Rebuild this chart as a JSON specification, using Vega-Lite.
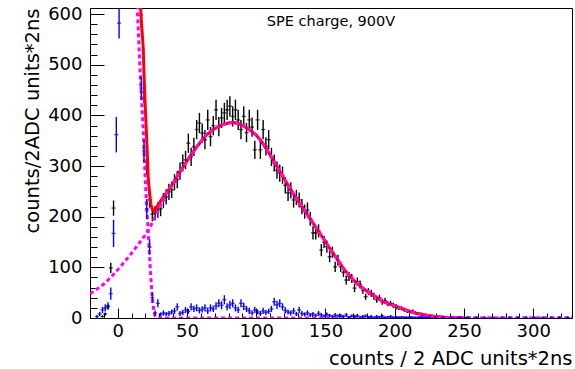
{
"$schema": "https://vega.github.io/schema/vega-lite/v6.json",
"width": 482, "height": 310,
"autosize": {"type": "none"},
"padding": {"left": 90, "top": 8, "right": 3, "bottom": 51},
"background": "white",
"config": {"view": {"stroke": "black", "strokeWidth": 1}, "font": "DejaVu Sans"},
"title": {"text": "SPE charge, 900V", "anchor": "middle", "frame": "group", "offset": -35, "baseline": "alphabetic", "font": "DejaVu Sans", "fontSize": 14.5, "fontWeight": "normal", "color": "black"},
"datasets": {
"black": [
{"x":-11,"y":3,"e":2},{"x":-9,"y":8,"e":3},{"x":-7,"y":22,"e":5},{"x":-5,"y":99,"e":10},{"x":-3,"y":217,"e":15},
{"x":17,"y":598,"e":24},{"x":19,"y":445,"e":21},{"x":21,"y":300,"e":17},{"x":23,"y":233,"e":15},{"x":25,"y":205,"e":14},
{"x":27,"y":207,"e":14},{"x":29,"y":213,"e":15},{"x":31,"y":216,"e":15},{"x":33,"y":232,"e":15},{"x":35,"y":239,"e":15},
{"x":37,"y":249,"e":16},{"x":39,"y":253,"e":16},{"x":41,"y":268,"e":16},{"x":43,"y":273,"e":17},{"x":45,"y":290,"e":17},
{"x":47,"y":306,"e":17},{"x":49,"y":312,"e":18},{"x":51,"y":345,"e":19},{"x":53,"y":318,"e":18},{"x":55,"y":338,"e":18},
{"x":57,"y":372,"e":19},{"x":59,"y":385,"e":20},{"x":61,"y":365,"e":19},{"x":63,"y":352,"e":19},{"x":65,"y":391,"e":20},
{"x":67,"y":358,"e":19},{"x":69,"y":380,"e":19},{"x":71,"y":411,"e":20},{"x":73,"y":378,"e":19},{"x":75,"y":395,"e":20},
{"x":77,"y":405,"e":20},{"x":79,"y":411,"e":20},{"x":81,"y":418,"e":20},{"x":83,"y":398,"e":20},{"x":85,"y":411,"e":20},
{"x":87,"y":391,"e":20},{"x":89,"y":372,"e":19},{"x":91,"y":398,"e":20},{"x":93,"y":366,"e":19},{"x":95,"y":391,"e":20},
{"x":97,"y":377,"e":19},{"x":99,"y":332,"e":18},{"x":101,"y":391,"e":20},{"x":103,"y":332,"e":18},{"x":105,"y":372,"e":19},
{"x":107,"y":339,"e":18},{"x":109,"y":352,"e":19},{"x":111,"y":318,"e":18},{"x":113,"y":306,"e":17},{"x":115,"y":292,"e":17},
{"x":117,"y":286,"e":17},{"x":119,"y":282,"e":17},{"x":121,"y":262,"e":16},{"x":123,"y":247,"e":16},{"x":125,"y":252,"e":16},
{"x":127,"y":233,"e":15},{"x":129,"y":238,"e":15},{"x":131,"y":233,"e":15},{"x":133,"y":220,"e":15},{"x":135,"y":210,"e":14},
{"x":137,"y":213,"e":15},{"x":139,"y":196,"e":14},{"x":141,"y":168,"e":13},{"x":143,"y":168,"e":13},{"x":145,"y":172,"e":13},
{"x":147,"y":134,"e":12},{"x":149,"y":150,"e":12},{"x":151,"y":141,"e":12},{"x":153,"y":121,"e":11},{"x":155,"y":130,"e":11},
{"x":157,"y":101,"e":10},{"x":159,"y":114,"e":11},{"x":161,"y":101,"e":10},{"x":163,"y":90,"e":9},{"x":165,"y":75,"e":9},
{"x":167,"y":82,"e":9},{"x":169,"y":78,"e":9},{"x":171,"y":59,"e":8},{"x":173,"y":72,"e":8},{"x":175,"y":66,"e":8},
{"x":177,"y":55,"e":7},{"x":179,"y":42,"e":6},{"x":181,"y":52,"e":7},{"x":183,"y":49,"e":7},{"x":185,"y":43,"e":7},
{"x":187,"y":36,"e":6},{"x":189,"y":40,"e":6},{"x":191,"y":32,"e":6},{"x":193,"y":34,"e":6},{"x":195,"y":28,"e":5},
{"x":197,"y":29,"e":5},{"x":199,"y":25,"e":5},{"x":201,"y":22,"e":5},{"x":203,"y":20,"e":4},{"x":205,"y":19,"e":4},
{"x":207,"y":16,"e":4},{"x":209,"y":14,"e":4},{"x":211,"y":12,"e":3},{"x":213,"y":13,"e":4},{"x":215,"y":10,"e":3},
{"x":217,"y":9,"e":3},{"x":219,"y":8,"e":3},{"x":221,"y":6,"e":2},{"x":223,"y":6,"e":2},{"x":225,"y":5,"e":2},
{"x":227,"y":3,"e":2},{"x":229,"y":4,"e":2},{"x":231,"y":3,"e":2},{"x":233,"y":2,"e":1},{"x":235,"y":2,"e":1},
{"x":237,"y":1,"e":1},{"x":239,"y":2,"e":1},{"x":241,"y":1,"e":1},{"x":245,"y":1,"e":1},{"x":251,"y":1,"e":1}
],
"blue": [
{"x":-15,"y":3,"e":3},{"x":-13,"y":8,"e":4},{"x":-11,"y":16,"e":6},{"x":-9,"y":20,"e":7},{"x":-7,"y":24,"e":7},
{"x":-5,"y":48,"e":12},{"x":-3,"y":167,"e":27},{"x":-1,"y":362,"e":35},{"x":1,"y":582,"e":30},
{"x":17,"y":454,"e":23},{"x":19,"y":330,"e":22},{"x":21,"y":215,"e":20},{"x":23,"y":140,"e":15},{"x":25,"y":40,"e":10},
{"x":27,"y":10,"e":5},{"x":29,"y":29,"e":8},{"x":31,"y":7,"e":4},{"x":33,"y":10,"e":5},{"x":35,"y":8,"e":4},
{"x":37,"y":9,"e":5},{"x":39,"y":12,"e":5},{"x":41,"y":14,"e":6},{"x":43,"y":22,"e":7},{"x":45,"y":9,"e":5},
{"x":47,"y":11,"e":5},{"x":49,"y":16,"e":6},{"x":51,"y":13,"e":5},{"x":53,"y":22,"e":7},{"x":55,"y":18,"e":6},
{"x":57,"y":20,"e":7},{"x":59,"y":15,"e":6},{"x":61,"y":17,"e":6},{"x":63,"y":20,"e":7},{"x":65,"y":14,"e":6},
{"x":67,"y":20,"e":7},{"x":69,"y":18,"e":6},{"x":71,"y":24,"e":7},{"x":73,"y":29,"e":8},{"x":75,"y":25,"e":8},
{"x":77,"y":36,"e":9},{"x":79,"y":22,"e":7},{"x":81,"y":26,"e":8},{"x":83,"y":29,"e":8},{"x":85,"y":20,"e":7},
{"x":87,"y":16,"e":6},{"x":89,"y":29,"e":8},{"x":91,"y":23,"e":7},{"x":93,"y":18,"e":6},{"x":95,"y":14,"e":6},
{"x":97,"y":10,"e":5},{"x":99,"y":16,"e":6},{"x":101,"y":12,"e":5},{"x":103,"y":9,"e":5},{"x":105,"y":14,"e":6},
{"x":107,"y":11,"e":5},{"x":109,"y":13,"e":5},{"x":111,"y":18,"e":6},{"x":113,"y":32,"e":8},{"x":115,"y":26,"e":8},
{"x":117,"y":29,"e":8},{"x":119,"y":22,"e":7},{"x":121,"y":15,"e":6},{"x":123,"y":12,"e":5},{"x":125,"y":10,"e":5},
{"x":127,"y":14,"e":6},{"x":129,"y":8,"e":4},{"x":131,"y":16,"e":6},{"x":133,"y":9,"e":5},{"x":135,"y":7,"e":4},
{"x":137,"y":10,"e":5},{"x":139,"y":6,"e":4},{"x":141,"y":8,"e":4},{"x":143,"y":5,"e":3},{"x":145,"y":9,"e":5},
{"x":147,"y":6,"e":4},{"x":149,"y":4,"e":3},{"x":151,"y":7,"e":4},{"x":153,"y":5,"e":3},{"x":155,"y":3,"e":3},
{"x":157,"y":6,"e":4},{"x":159,"y":4,"e":3},{"x":161,"y":5,"e":3},{"x":163,"y":3,"e":3},{"x":165,"y":6,"e":4},
{"x":167,"y":2,"e":2},{"x":169,"y":4,"e":3},{"x":171,"y":3,"e":3},{"x":173,"y":5,"e":3},{"x":175,"y":2,"e":2},
{"x":177,"y":3,"e":3},{"x":179,"y":4,"e":3},{"x":181,"y":2,"e":2},{"x":183,"y":3,"e":3},{"x":185,"y":1,"e":2},
{"x":187,"y":3,"e":3},{"x":189,"y":2,"e":2},{"x":191,"y":4,"e":3},{"x":193,"y":1,"e":2},{"x":195,"y":2,"e":2},
{"x":197,"y":3,"e":3},{"x":199,"y":1,"e":2},{"x":201,"y":2,"e":2},{"x":203,"y":1,"e":2},{"x":205,"y":2,"e":2},
{"x":207,"y":1,"e":2},{"x":209,"y":1,"e":2},{"x":211,"y":2,"e":2},{"x":213,"y":1,"e":2},{"x":215,"y":1,"e":2},
{"x":217,"y":1,"e":2},{"x":219,"y":2,"e":2},{"x":221,"y":1,"e":2},{"x":223,"y":1,"e":2},{"x":225,"y":1,"e":2},
{"x":229,"y":1,"e":2},{"x":235,"y":1,"e":2},{"x":241,"y":1,"e":2},{"x":247,"y":1,"e":2},{"x":253,"y":1,"e":2},
{"x":259,"y":1,"e":2},{"x":265,"y":1,"e":2},{"x":271,"y":1,"e":2},{"x":277,"y":1,"e":2},{"x":283,"y":1,"e":2},
{"x":289,"y":1,"e":2},{"x":295,"y":1,"e":2},{"x":301,"y":1,"e":2},{"x":307,"y":1,"e":2},{"x":313,"y":1,"e":2},
{"x":319,"y":1,"e":2},{"x":325,"y":1,"e":2}
],
"red": [
{"x":15,"y":700},{"x":16,"y":640},{"x":17,"y":590},{"x":18,"y":550},{"x":18.5,"y":530},{"x":19,"y":480},{"x":19.7,"y":431},
{"x":20.5,"y":380},{"x":21.3,"y":330},{"x":22.1,"y":273},{"x":23.3,"y":240},{"x":24,"y":224},{"x":25,"y":214},{"x":26,"y":212},
{"x":28,"y":218},{"x":30,"y":227},{"x":32,"y":235},{"x":34,"y":243},{"x":36,"y":250},{"x":40,"y":266},{"x":44,"y":284},
{"x":48,"y":301},{"x":52,"y":318},{"x":56,"y":334},{"x":60,"y":348},{"x":64,"y":361},{"x":68,"y":370},{"x":72,"y":377},
{"x":76,"y":382},{"x":80,"y":385},{"x":84,"y":386},{"x":88,"y":383},{"x":92,"y":377},{"x":96,"y":370},{"x":100,"y":361},
{"x":104,"y":348},{"x":108,"y":331},{"x":112,"y":313},{"x":116,"y":294},{"x":120,"y":276},{"x":124,"y":258},{"x":128,"y":240},
{"x":132,"y":224},{"x":136,"y":208},{"x":140,"y":192},{"x":144,"y":175},{"x":148,"y":159},{"x":152,"y":142},{"x":156,"y":126},
{"x":160,"y":110},{"x":164,"y":94},{"x":168,"y":82},{"x":172,"y":70},{"x":176,"y":61},{"x":180,"y":53},{"x":184,"y":46},
{"x":188,"y":39},{"x":192,"y":32},{"x":196,"y":28},{"x":200,"y":24},{"x":204,"y":20},{"x":208,"y":16},{"x":212,"y":12},
{"x":216,"y":9},{"x":220,"y":7},{"x":224,"y":5},{"x":228,"y":3.5},{"x":232,"y":2.5},{"x":236,"y":1.7},{"x":240,"y":1.2},
{"x":244,"y":0.8},{"x":250,"y":0.4}
],
"ped": [
{"x":13,"y":700},{"x":13.7,"y":640},{"x":16,"y":497},{"x":18.5,"y":365},{"x":19.7,"y":286},{"x":20.9,"y":220},{"x":22.1,"y":167},
{"x":23.3,"y":108},{"x":24.5,"y":55},{"x":25.7,"y":22},{"x":26.8,"y":5},{"x":28,"y":1},{"x":30,"y":0},{"x":328,"y":0}
],
"gaus": [
{"x":-20,"y":48},{"x":-15,"y":57},{"x":-10,"y":67},{"x":-5,"y":80},{"x":0,"y":95},{"x":5,"y":111},{"x":10,"y":128},
{"x":15,"y":146},{"x":20,"y":164},{"x":24,"y":183},{"x":28,"y":205},{"x":32,"y":230},{"x":36,"y":250},{"x":40,"y":266},
{"x":44,"y":284},{"x":48,"y":301},{"x":52,"y":318},{"x":56,"y":334},{"x":60,"y":348},{"x":64,"y":361},{"x":68,"y":370},
{"x":72,"y":377},{"x":76,"y":382},{"x":80,"y":385},{"x":84,"y":386},{"x":88,"y":383},{"x":92,"y":377},{"x":96,"y":370},
{"x":100,"y":361},{"x":104,"y":348},{"x":108,"y":331},{"x":112,"y":313},{"x":116,"y":294},{"x":120,"y":276},{"x":124,"y":258},
{"x":128,"y":240},{"x":132,"y":224},{"x":136,"y":208},{"x":140,"y":192},{"x":144,"y":175},{"x":148,"y":159},{"x":152,"y":142},
{"x":156,"y":126},{"x":160,"y":110},{"x":164,"y":94},{"x":168,"y":82},{"x":172,"y":70},{"x":176,"y":61},{"x":180,"y":53},
{"x":184,"y":46},{"x":188,"y":39},{"x":192,"y":32},{"x":196,"y":28},{"x":200,"y":24},{"x":204,"y":20},{"x":208,"y":16},
{"x":212,"y":12},{"x":216,"y":9},{"x":220,"y":7},{"x":224,"y":5},{"x":228,"y":3.5},{"x":232,"y":2.5},{"x":236,"y":1.7},
{"x":240,"y":1.2},{"x":248,"y":0.5},{"x":260,"y":0.1},{"x":328,"y":0}
]
},
"layer": [
{"data": {"name": "black"}, "mark": {"type": "errorbar", "color": "black", "thickness": 1.4, "clip": true},
 "encoding": {"x": {"field": "x", "type": "quantitative", "scale": {"domain": [-20, 328], "nice": false, "zero": false}, "axis": null},
  "y": {"field": "y", "type": "quantitative", "scale": {"domain": [0, 612], "nice": false, "zero": false}, "axis": null},
  "yError": {"field": "e"}}},
{"data": {"name": "black"}, "mark": {"type": "tick", "orient": "horizontal", "color": "black", "size": 4, "thickness": 1.4, "clip": true},
 "encoding": {"x": {"field": "x", "type": "quantitative", "scale": {"domain": [-20, 328], "nice": false, "zero": false},
   "axis": {"orient": "bottom", "values": [0,50,100,150,200,250,300], "tickSize": -10, "tickColor": "black", "tickWidth": 1, "domain": true, "domainColor": "black", "labelFont": "DejaVu Sans", "labelFontSize": 18, "labelColor": "black", "labelPadding": 14, "labelFlush": false, "labelOverlap": false, "grid": false, "title": "counts / 2 ADC units*2ns", "titleAnchor": "end", "titleFont": "DejaVu Sans", "titleFontSize": 19.5, "titleFontWeight": "normal", "titleColor": "black", "titlePadding": 9}},
  "y": {"field": "y", "type": "quantitative", "scale": {"domain": [0, 612], "nice": false, "zero": false},
   "axis": {"orient": "left", "values": [0,100,200,300,400,500,600], "tickSize": -14, "tickColor": "black", "tickWidth": 1, "domain": true, "domainColor": "black", "labelFont": "DejaVu Sans", "labelFontSize": 18, "labelColor": "black", "labelPadding": 22, "labelFlush": false, "labelOverlap": false, "grid": false, "title": "counts/2ADC units*2ns", "titleAnchor": "end", "titleFont": "DejaVu Sans", "titleFontSize": 19.5, "titleFontWeight": "normal", "titleColor": "black", "titlePadding": 5}}}},
{"data": {"name": "red"}, "mark": {"type": "line", "color": "#ff0000", "strokeWidth": 3, "clip": true},
 "encoding": {"x": {"field": "x", "type": "quantitative", "axis": null}, "y": {"field": "y", "type": "quantitative", "axis": null}}},
{"data": {"name": "ped"}, "mark": {"type": "line", "color": "#ff00ff", "strokeWidth": 3, "strokeDash": [4, 3], "clip": true},
 "encoding": {"x": {"field": "x", "type": "quantitative", "axis": null}, "y": {"field": "y", "type": "quantitative", "axis": null}}},
{"data": {"name": "gaus"}, "mark": {"type": "line", "color": "#ff00ff", "strokeWidth": 3, "strokeDash": [4, 3], "clip": true},
 "encoding": {"x": {"field": "x", "type": "quantitative", "axis": null}, "y": {"field": "y", "type": "quantitative", "axis": null}}},
{"data": {"name": "blue"}, "mark": {"type": "errorbar", "color": "#0000ff", "thickness": 1.4, "clip": true},
 "encoding": {"x": {"field": "x", "type": "quantitative", "axis": null}, "y": {"field": "y", "type": "quantitative", "axis": null}, "yError": {"field": "e"}}},
{"data": {"name": "blue"}, "mark": {"type": "tick", "orient": "horizontal", "color": "#0000ff", "size": 4, "thickness": 1.4, "clip": true},
 "encoding": {"x": {"field": "x", "type": "quantitative",
   "axis": {"orient": "bottom", "values": [-20,-10,0,10,20,30,40,50,60,70,80,90,100,110,120,130,140,150,160,170,180,190,200,210,220,230,240,250,260,270,280,290,300,310,320], "tickSize": -5, "tickColor": "black", "tickWidth": 1, "labels": false, "domain": false, "grid": false, "title": null}},
  "y": {"field": "y", "type": "quantitative",
   "axis": {"orient": "left", "values": [0,20,40,60,80,100,120,140,160,180,200,220,240,260,280,300,320,340,360,380,400,420,440,460,480,500,520,540,560,580,600], "tickSize": -7, "tickColor": "black", "tickWidth": 1, "labels": false, "domain": false, "grid": false, "title": null}}}}
],
"resolve": {"axis": {"x": "independent", "y": "independent"}}
}
